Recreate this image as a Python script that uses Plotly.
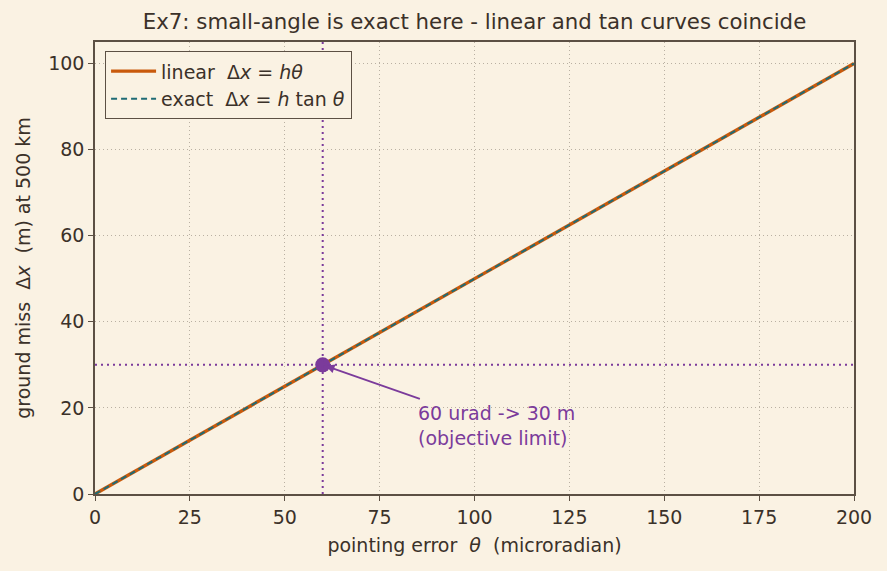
import plotly.graph_objects as go

theta_urad = [0, 25, 50, 75, 100, 125, 150, 175, 200]
dx_linear_m = [0, 12.5, 25, 37.5, 50, 62.5, 75, 87.5, 100]
dx_exact_m = [0, 12.5, 25, 37.5, 50, 62.5, 75, 87.5, 100]
limit_theta = [60]
limit_dx = [30]
x_ticks = [0, 25, 50, 75, 100, 125, 150, 175, 200]
y_ticks = [0, 20, 40, 60, 80, 100]

BG = "#faf2e3"
TXT = "#3b3129"
AX = "#5c5044"
ORANGE = "#c95a0c"
TEAL = "#1f6b75"
PURPLE = "#7b3b9b"
GRID = "#b9b0a2"
FONT = "DejaVu Sans"
FS = 19

fig = go.Figure()
fig.add_trace(go.Scatter(x=theta_urad, y=dx_linear_m, mode="lines",
                         line=dict(color=ORANGE, width=3.4),
                         name="linear  Δ<i>x</i> = <i>hθ</i>"))
fig.add_trace(go.Scatter(x=theta_urad, y=dx_exact_m, mode="lines",
                         line=dict(color=TEAL, width=2, dash="6px,4px"),
                         name="exact  Δ<i>x</i> = <i>h</i> tan <i>θ</i>"))
fig.add_trace(go.Scatter(x=limit_theta, y=limit_dx, mode="markers",
                         marker=dict(color=PURPLE, size=15), showlegend=False))

fig.add_shape(type="line", xref="x", yref="paper", x0=limit_theta[0], x1=limit_theta[0], y0=0, y1=1,
              line=dict(color=PURPLE, width=2, dash="2px,4px"), layer="above")
fig.add_shape(type="line", xref="paper", yref="y", x0=0, x1=1, y0=limit_dx[0], y1=limit_dx[0],
              line=dict(color=PURPLE, width=2, dash="2px,4px"), layer="above")

fig.add_annotation(x=limit_theta[0], y=limit_dx[0], ax=86, ay=22, axref="x", ayref="y",
                   xref="x", yref="y", text="", showarrow=True, arrowhead=2, arrowsize=1,
                   arrowwidth=1.8, arrowcolor=PURPLE, standoff=3)
fig.add_annotation(x=84.5, y=21.8, xref="x", yref="y", xanchor="left", yanchor="top",
                   text="60 urad -> 30 m<br>(objective limit)", showarrow=False, align="left",
                   font=dict(family=FONT, size=FS, color=PURPLE))

fig.update_layout(
    width=887, height=571,
    paper_bgcolor=BG, plot_bgcolor=BG,
    margin=dict(l=95, r=33, t=42, b=77),
    font=dict(family=FONT, size=FS, color=TXT),
    title=dict(text="Ex7: small-angle is exact here - linear and tan curves coincide",
               x=0.5, xref="paper", xanchor="center", y=0.962, yanchor="middle",
               font=dict(family=FONT, size=21.3, color=TXT)),
    legend=dict(x=0.013, y=0.98, xanchor="left", yanchor="top", bgcolor=BG,
                bordercolor=AX, borderwidth=1.2, font=dict(family=FONT, size=FS, color=TXT),
                tracegroupgap=2, itemwidth=45),
    showlegend=True,
)
fig.update_xaxes(range=[0, 200], tickvals=x_ticks, showline=True, linecolor=AX, linewidth=1.5,
                 mirror=True, ticks="outside", ticklen=5, tickcolor=AX, zeroline=False,
                 showgrid=True, gridcolor=GRID, griddash="1px,3px", gridwidth=1,
                 title=dict(text="pointing error  <i>θ</i>  (microradian)", standoff=12,
                            font=dict(family=FONT, size=FS, color=TXT)),
                 tickfont=dict(family=FONT, size=FS, color=TXT))
fig.update_yaxes(range=[0, 105], tickvals=y_ticks, showline=True, linecolor=AX, linewidth=1.5,
                 mirror=True, ticks="outside", ticklen=5, tickcolor=AX, zeroline=False,
                 showgrid=True, gridcolor=GRID, griddash="1px,3px", gridwidth=1,
                 title=dict(text="ground miss  Δ<i>x</i>  (m) at 500 km", standoff=13,
                            font=dict(family=FONT, size=FS, color=TXT)),
                 tickfont=dict(family=FONT, size=FS, color=TXT))

fig.write_html("out.html")
